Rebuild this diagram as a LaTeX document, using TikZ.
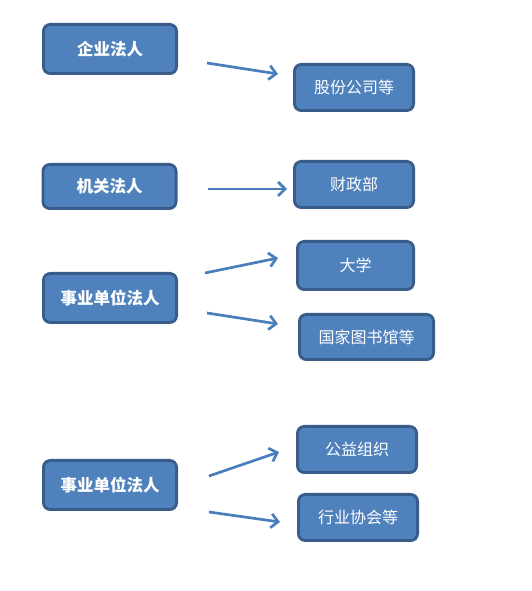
\documentclass[tikz,border=0pt]{standalone}
\usepackage{fontspec}
\newfontfamily\cjk{Noto Sans CJK SC}
\usetikzlibrary{arrows.meta}
\definecolor{boxfill}{HTML}{4F81BD}
\definecolor{boxline}{HTML}{385D8A}
\definecolor{arrowblue}{HTML}{4A7EBB}
\begin{document}
\begin{tikzpicture}[x=1pt, y=1pt,
  kind/.style={draw=boxline, line width=2.8pt, fill=boxfill, rounded corners=7pt,
    text=white, inner sep=0pt, minimum width=133.2pt, minimum height=49.2pt,
    font=\cjk\bfseries\fontsize{16.5}{19}\selectfont},
  inst/.style={kind, minimum width=119.2pt, minimum height=46.2pt,
    font=\cjk\fontsize{16}{19}\selectfont},
  arr/.style={draw=arrowblue, line width=2.7pt, -{Straight Barb[length=7pt,width=14pt]}}]
  \useasboundingbox (0,0) rectangle (532,591);
  % left column
  \node[kind] (qiye)   at (110,542)   {企业法人};
  \node[kind, minimum height=44.2pt] (jiguan) at (109.5,404.5) {机关法人};
  \node[kind] (shiye)  at (110,293)   {事业单位法人};
  \node[kind] (shiyeb) at (110,106)   {事业单位法人};
  % right column
  \node[inst] (gufen)    at (354,503.5) {股份公司等};
  \node[inst] (caizheng) at (354,406.5) {财政部};
  \node[inst, minimum width=116.2pt, minimum height=48.2pt] (daxue) at (355.5,325.5) {大学};
  \node[inst, minimum width=134.2pt, minimum height=45.2pt] (tushu) at (366.5,254) {国家图书馆等};
  \node[inst] (gongyi) at (357,141.5) {公益组织};
  \node[inst] (hangye) at (358,73.5)  {行业协会等};
  % arrows
  \draw[arr] ([shift={(29,-14)}]qiye.east)   -- ([shift={(-15,13.5)}]gufen.west);
  \draw[arr] ([shift={(30,-2.5)}]jiguan.east) -- ([shift={(-6,-4.5)}]caizheng.west);
  \draw[arr] ([shift={(27,25)}]shiye.east)   -- ([shift={(-18,7.5)}]daxue.west);
  \draw[arr] ([shift={(29,-15)}]shiye.east)  -- ([shift={(-20,13)}]tushu.west);
  \draw[arr] ([shift={(31,9)}]shiyeb.east)   -- ([shift={(-17,-2.5)}]gongyi.west);
  \draw[arr] ([shift={(31,-27)}]shiyeb.east) -- ([shift={(-17,-4.5)}]hangye.west);
\end{tikzpicture}
\end{document}
